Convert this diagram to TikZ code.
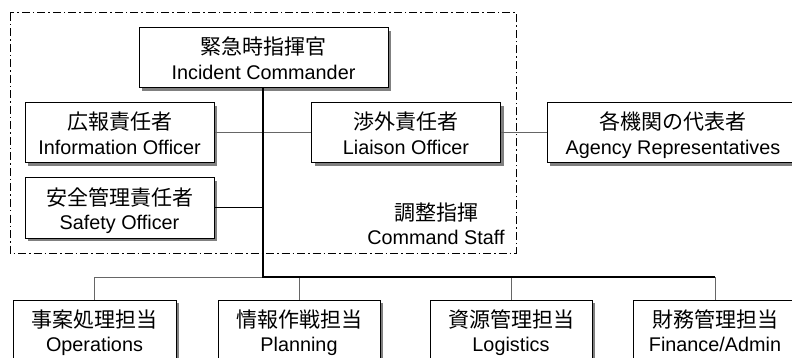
\documentclass[tikz,border=0pt]{standalone}
\usepackage{fontspec}
\setmainfont{Liberation Sans}
\newfontfamily\jp{Noto Sans CJK JP}
\usetikzlibrary{shadows}
\tikzset{
 box/.style={draw=black,line width=1pt,fill=white,inner sep=0pt,minimum height=60pt,
   drop shadow={shadow xshift=3pt,shadow yshift=-3pt,fill=black!50,opacity=1}},
 jpt/.style={anchor=base,inner sep=0pt,font=\jp\fontsize{21}{21}\selectfont},
 ent/.style={anchor=base,inner sep=0pt,font=\fontsize{19.8}{20}\selectfont},
 branch/.style={draw=black!60,line width=1pt},
 trunk/.style={draw=black,line width=1.5pt},
 staff/.style={draw=black,line width=1pt,dash pattern=on 8pt off 3pt on 1.5pt off 3pt},
}
\newcommand\boxlabels[3]{%
 \node[jpt] at ([yshift=-27.5pt]#1.north) {#2};
 \node[ent] at ([yshift=-52pt]#1.north) {#3};}
\begin{document}
\begin{tikzpicture}[x=1pt,y=-1pt]
\useasboundingbox (0,0) rectangle (792,358);
\clip (0,0) rectangle (792,358);
\fill[white] (0,0) rectangle (792,358);
% command staff group
\draw[staff] (10,13) rectangle (516,253);
\node[jpt] (csj) at (436,220.5) {調整指揮};
\node[ent] (cse) at (436,244) {Command Staff};
% boxes
\node[box,minimum width=249pt] (ic) at (263.5,58) {};
\node[box,minimum width=189pt] (info) at (119.5,133) {};
\node[box,minimum width=189pt] (liaison) at (406,133) {};
\node[box,minimum width=252pt] (agency) at (673,133) {};
\node[box,minimum width=189pt] (safety) at (119.5,208) {};
\node[box,minimum width=163pt] (ops) at (94.5,330) {};
\node[box,minimum width=162pt] (plan) at (299,330) {};
\node[box,minimum width=162pt] (log) at (511,330) {};
\node[box,minimum width=163pt] (fin) at (715,330) {};
\coordinate (bus) at (263,277);
% connectors
\draw[branch] (info.east) -- (liaison.west);
\draw[branch] (liaison.east) -- (agency.west);
\draw[draw=black,line width=1pt] (safety.east) -- (safety.east -| bus);
\draw[branch] (ops.north) |- (bus);
\draw[branch] (plan.north) -- (plan.north |- bus);
\draw[branch] (log.north) -- (log.north |- bus);
\draw[branch] (fin.north) -- (fin.north |- bus);
\draw[trunk] (ic.south -| bus) -- (bus) -- (bus -| fin.north);
% labels
\boxlabels{ic}{緊急時指揮官}{Incident Commander}
\boxlabels{info}{広報責任者}{Information Officer}
\boxlabels{liaison}{渉外責任者}{Liaison Officer}
\boxlabels{agency}{各機関の代表者}{Agency Representatives}
\boxlabels{safety}{安全管理責任者}{Safety Officer}
\boxlabels{ops}{事案処理担当}{Operations}
\boxlabels{plan}{情報作戦担当}{Planning}
\boxlabels{log}{資源管理担当}{Logistics}
\boxlabels{fin}{財務管理担当}{Finance/Admin}
\end{tikzpicture}
\end{document}
